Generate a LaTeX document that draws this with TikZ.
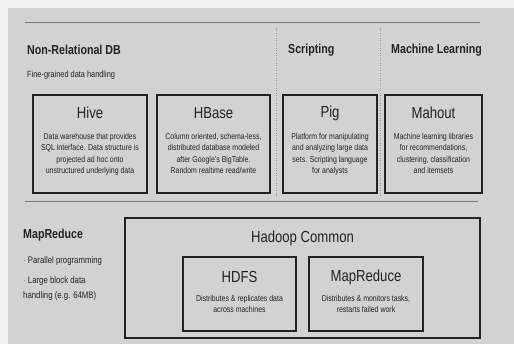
\documentclass[tikz,border=0pt]{standalone}
\usepackage{fontspec}
\setmainfont{Liberation Sans}[FakeStretch=0.82]
\definecolor{outer}{RGB}{242,242,242}
\definecolor{panel}{RGB}{210,210,210}
\definecolor{ink}{RGB}{34,34,34}
\definecolor{rule}{RGB}{120,120,120}
\definecolor{dots}{RGB}{150,150,150}
\tikzset{
  x=1pt, y=-1pt,
  box/.style={draw=ink, line width=1.4pt, fill=panel, inner sep=0pt},
  ttl/.style={font=\fontsize{16}{18}\selectfont, text=ink, inner sep=0pt},
  body/.style={font=\fontsize{8.5}{11.5}\selectfont, align=center, text=ink, inner sep=0pt, anchor=north},
  hdr/.style={font=\bfseries\fontsize{13}{15}\selectfont, text=ink, anchor=west, inner sep=0pt},
  sub/.style={font=\fontsize{9}{11}\selectfont, text=ink, anchor=west, inner sep=0pt},
  hrule/.style={draw=rule, line width=1pt},
  vrule/.style={draw=dots, line width=0.5pt, dotted},
}
\begin{document}
\begin{tikzpicture}
\useasboundingbox (0,0) rectangle (514,344);
\fill[outer] (0,0) rectangle (514,344);
\fill[panel] (8,8) rectangle (514,344);
% rules
\coordinate (t1) at (25,23); \coordinate (t2) at (480,23);
\coordinate (b1) at (25,202); \coordinate (b2) at (478,202);
\draw[hrule] (t1) -- (t2);
\draw[hrule] (b1) -- (b2);
\coordinate (v1a) at (276,28); \coordinate (v1b) at (276,198);
\coordinate (v2a) at (380,28); \coordinate (v2b) at (380,198);
\draw[vrule] (v1a) -- (v1b);
\draw[vrule] (v2a) -- (v2b);
% headers
\node[hdr] (nrdb) at (27,50) {Non-Relational DB};
\node[sub] (fgdh) at (27,75) {Fine-grained data handling};
\node[hdr] (scr) at (288,50) {Scripting};
\node[hdr] (ml) at (391,50) {Machine Learning};
% top boxes
\node[box, minimum width=114pt, minimum height=98pt] (hive) at (90,144) {};
\node[box, minimum width=113pt, minimum height=98pt] (hbase) at (213.5,144) {};
\node[box, minimum width=94pt, minimum height=98pt] (pig) at (330,144) {};
\node[box, minimum width=97pt, minimum height=98pt] (mahout) at (433.5,144) {};
\node[ttl] (hivet) at (90,113) {Hive};
\node[ttl] (hbaset) at (213.5,113) {HBase};
\node[ttl] (pigt) at (330,113) {Pig};
\node[ttl] (mahoutt) at (433.5,113) {Mahout};
\node[body] (hiveb) at (90,133) {Data warehouse that provides\\SQL interface. Data structure is\\projected ad hoc onto\\unstructured underlying data};
\node[body] (hbaseb) at (213.5,133) {Column oriented, schema-less,\\distributed database modeled\\after Google's BigTable.\\Random realtime read/write};
\node[body] (pigb) at (330,133) {Platform for manipulating\\and analyzing large data\\sets. Scripting language\\for analysts};
\node[body] (mahoutb) at (433.5,133) {Machine learning libraries\\for recommendations,\\clustering, classification\\and itemsets};
% bottom
\node[hdr] (mr) at (23,235) {MapReduce};
\node[sub, font=\fontsize{9.5}{11}\selectfont] (pp) at (23,261) {$\cdot$ Parallel programming};
\node[sub, font=\fontsize{9.5}{15}\selectfont, align=left, anchor=north west] (lb) at (23,276) {$\cdot$ Large block data\\handling (e.g. 64MB)};
\node[box, minimum width=355pt, minimum height=120pt] (hc) at (302.5,278) {};
\node[ttl] (hct) at (302.5,238) {Hadoop Common};
\node[box, minimum width=113pt, minimum height=74pt] (hdfs) at (239.5,294) {};
\node[box, minimum width=114pt, minimum height=74pt] (mrb) at (366,294) {};
\node[ttl] (hdfst) at (239.5,277) {HDFS};
\node[ttl] (mrbt) at (366,277) {MapReduce};
\node[body] (hdfsb) at (239.5,295) {Distributes \& replicates data\\across machines};
\node[body] (mrbb) at (366,295) {Distributes \& monitors tasks,\\restarts failed work};
\end{tikzpicture}
\end{document}
